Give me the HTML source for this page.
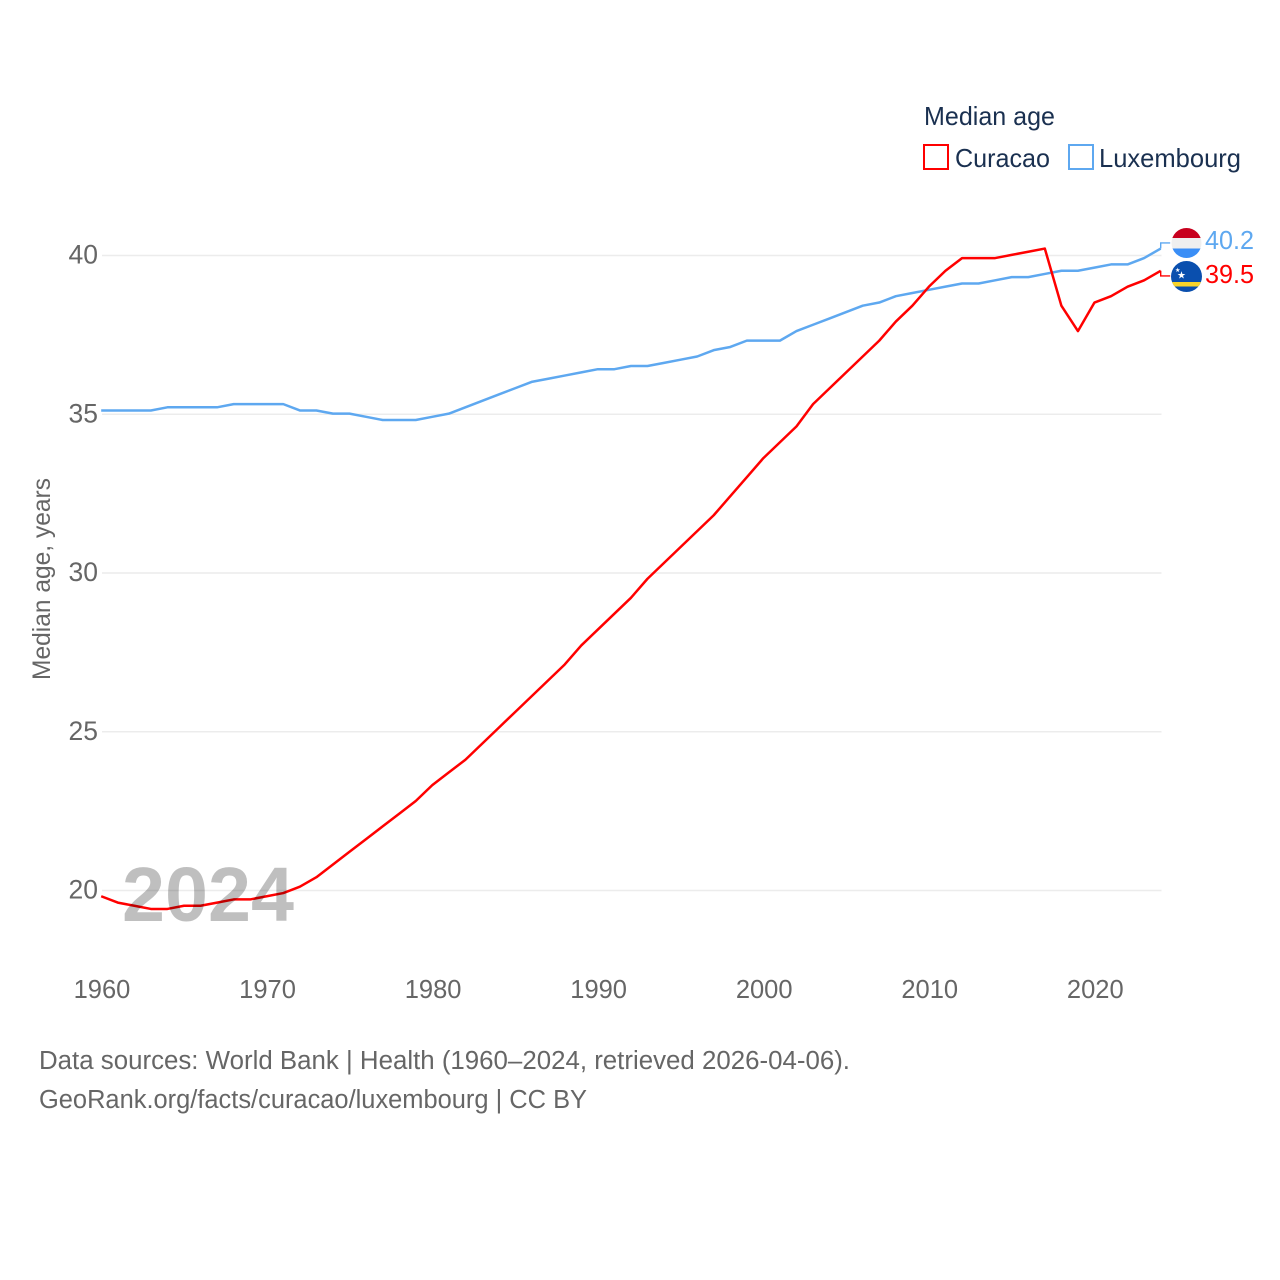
<!DOCTYPE html>
<html lang="en">
<head>
<meta charset="utf-8">
<title>Median age: Curacao and Luxembourg</title>
<style>
html,body{margin:0;padding:0;background:#fff;width:1280px;height:1280px;overflow:hidden}
svg{display:block}
text{font-family:"Liberation Sans",sans-serif}
</style>
</head>
<body>
<svg id="chart" xmlns="http://www.w3.org/2000/svg" width="1280" height="1280" viewBox="0 0 1280 1280">
  <defs>
    <clipPath id="lux-clip"><circle cx="1186.5" cy="243" r="15"/></clipPath>
    <clipPath id="cur-clip"><circle cx="1186.5" cy="276.5" r="15.5"/></clipPath>
  </defs>
  <g id="grid"></g>
  <g id="y-ticks"></g>
  <g id="x-ticks"></g>
  <text transform="translate(50,680) rotate(-90)" font-size="25" fill="#666" textLength="202" lengthAdjust="spacingAndGlyphs">Median age, years</text>
  <g id="series" transform="translate(-0.8,-0.6)"></g>

  <text x="122" y="921" font-size="77" font-weight="700" fill="#000" fill-opacity="0.25" textLength="172" lengthAdjust="spacingAndGlyphs">2024</text>

  <g>
    <text x="924" y="125" font-size="26" fill="#1a3050" textLength="131" lengthAdjust="spacingAndGlyphs">Median age</text>
    <g>
      <rect x="924" y="145" width="24" height="24" fill="none" stroke="#ff0000" stroke-width="2"/>
      <text x="955" y="167" font-size="26" fill="#1a3050" textLength="95" lengthAdjust="spacingAndGlyphs">Curacao</text>
    </g>
    <g>
      <rect x="1069" y="145" width="24" height="24" fill="none" stroke="#5ea8f0" stroke-width="2"/>
      <text x="1099" y="167" font-size="26" fill="#1a3050" textLength="142" lengthAdjust="spacingAndGlyphs">Luxembourg</text>
    </g>
  </g>

  <g clip-path="url(#lux-clip)">
    <rect x="1170" y="226" width="34" height="12" fill="#c8001e"/>
    <rect x="1170" y="238" width="34" height="10.5" fill="#efefef"/>
    <rect x="1170" y="248.5" width="34" height="11" fill="#3a8ef6"/>
  </g>
  <g clip-path="url(#cur-clip)">
    <rect x="1170" y="260" width="34" height="34" fill="#0a4fae"/>
    <rect x="1170" y="282" width="34" height="4.5" fill="#f9d42a"/>
    <text x="1177" y="278.5" font-size="10" fill="#fff">★</text>
    <text x="1175" y="272" font-size="6" fill="#fff">★</text>
  </g>

  <g id="end-labels"></g>

  <g>
    <text x="39" y="1069" font-size="25.5" fill="#666" textLength="811" lengthAdjust="spacingAndGlyphs">Data sources: World Bank | Health (1960–2024, retrieved 2026-04-06).</text>
    <text x="39" y="1108" font-size="25.5" fill="#666" textLength="548" lengthAdjust="spacingAndGlyphs">GeoRank.org/facts/curacao/luxembourg | CC BY</text>
  </g>
</svg>
<script>
const years = [1960,1961,1962,1963,1964,1965,1966,1967,1968,1969,1970,1971,1972,1973,1974,1975,1976,1977,1978,1979,1980,1981,1982,1983,1984,1985,1986,1987,1988,1989,1990,1991,1992,1993,1994,1995,1996,1997,1998,1999,2000,2001,2002,2003,2004,2005,2006,2007,2008,2009,2010,2011,2012,2013,2014,2015,2016,2017,2018,2019,2020,2021,2022,2023,2024];
const curacao = [19.8,19.6,19.5,19.4,19.4,19.5,19.5,19.6,19.7,19.7,19.8,19.9,20.1,20.4,20.8,21.2,21.6,22.0,22.4,22.8,23.3,23.7,24.1,24.6,25.1,25.6,26.1,26.6,27.1,27.7,28.2,28.7,29.2,29.8,30.3,30.8,31.3,31.8,32.4,33.0,33.6,34.1,34.6,35.3,35.8,36.3,36.8,37.3,37.9,38.4,39.0,39.5,39.9,39.9,39.9,40.0,40.1,40.2,38.4,37.6,38.5,38.7,39.0,39.2,39.5];
const luxembourg = [35.1,35.1,35.1,35.1,35.2,35.2,35.2,35.2,35.3,35.3,35.3,35.3,35.1,35.1,35.0,35.0,34.9,34.8,34.8,34.8,34.9,35.0,35.2,35.4,35.6,35.8,36.0,36.1,36.2,36.3,36.4,36.4,36.5,36.5,36.6,36.7,36.8,37.0,37.1,37.3,37.3,37.3,37.6,37.8,38.0,38.2,38.4,38.5,38.7,38.8,38.9,39.0,39.1,39.1,39.2,39.3,39.3,39.4,39.5,39.5,39.6,39.7,39.7,39.9,40.2];
const yTickValues = [20,25,30,35,40];
const xTickValues = [1960,1970,1980,1990,2000,2010,2020];

const NS = 'http://www.w3.org/2000/svg';
const plotLeft = 102, plotRight = 1161.5;
function xScale(year){ return plotLeft + (year - 1960) * (plotRight - plotLeft) / (2024 - 1960); }
function yScale(v){ return 890.5 - (v - 20) * (890.5 - 255.5) / 20; }

const grid = document.getElementById('grid');
const yTicks = document.getElementById('y-ticks');
const xTicks = document.getElementById('x-ticks');
const seriesGroup = document.getElementById('series');
const endLabels = document.getElementById('end-labels');

yTickValues.forEach(function(v){
  const line = document.createElementNS(NS, 'line');
  
  
  line.setAttribute('x1', plotLeft);
  line.setAttribute('x2', plotRight);
  line.setAttribute('y1', yScale(v));
  line.setAttribute('y2', yScale(v));
  line.setAttribute('stroke', '#ececec');
  line.setAttribute('stroke-width', '1.5');
  grid.appendChild(line);

  const label = document.createElementNS(NS, 'text');
  
  
  label.setAttribute('x', 98);
  label.setAttribute('y', yScale(v) + 8);
  label.setAttribute('text-anchor', 'end');
  label.setAttribute('font-size', '26.5');
  label.setAttribute('fill', '#666');
  label.textContent = v;
  yTicks.appendChild(label);
});

xTickValues.forEach(function(y){
  const label = document.createElementNS(NS, 'text');
  
  
  label.setAttribute('x', xScale(y));
  label.setAttribute('y', 998);
  label.setAttribute('text-anchor', 'middle');
  label.setAttribute('font-size', '25.5');
  label.setAttribute('fill', '#666');
  label.textContent = y;
  xTicks.appendChild(label);
});

function drawSeries(values, color, name, stubY, labelY, labelX){
  const last = values[values.length - 1];
  const pts = values.map(function(v, i){ return xScale(years[i]) + ',' + yScale(v); });
  const path = document.createElementNS(NS, 'polyline');
  
  
  path.setAttribute('points', pts.join(' '));
  path.setAttribute('fill', 'none');
  path.setAttribute('stroke', color);
  path.setAttribute('stroke-width', '2.5');
  path.setAttribute('stroke-linejoin', 'round');
  seriesGroup.appendChild(path);

  const stub = document.createElementNS(NS, 'polyline');
  
  
  stub.setAttribute('points', plotRight + ',' + yScale(last) + ' ' + plotRight + ',' + stubY + ' 1171,' + stubY);
  stub.setAttribute('fill', 'none');
  stub.setAttribute('stroke', color);
  stub.setAttribute('stroke-width', '1.4');
  seriesGroup.appendChild(stub);

  const label = document.createElementNS(NS, 'text');
  
  
  label.setAttribute('x', labelX);
  label.setAttribute('y', labelY);
  label.setAttribute('font-size', '25.5');
  label.setAttribute('fill', color);
  label.setAttribute('textLength', '49');
  label.setAttribute('lengthAdjust', 'spacingAndGlyphs');
  label.textContent = last.toFixed(1);
  endLabels.appendChild(label);
}

drawSeries(luxembourg, '#5ea8f0', 'luxembourg', 243.5, 249, 1205);
drawSeries(curacao, '#ff0000', 'curacao', 276.5, 283, 1205);
</script>
</body>
</html>
